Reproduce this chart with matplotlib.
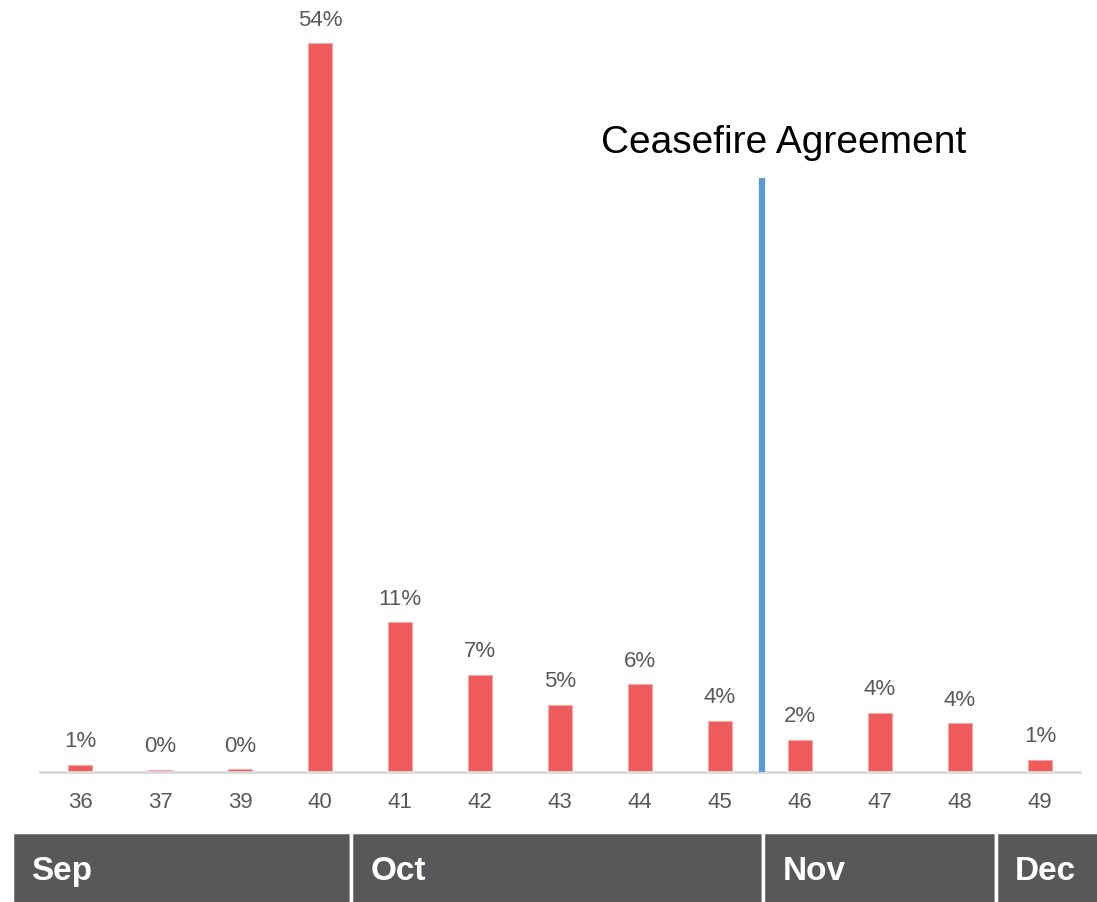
import matplotlib
matplotlib.use("Agg")
import matplotlib.pyplot as plt
from matplotlib.patches import Rectangle
from matplotlib import font_manager

weeks = ["36", "37", "39", "40", "41", "42", "43", "44", "45", "46", "47", "48", "49"]
values = [0.55, 0.15, 0.22, 54.0, 11.1, 7.2, 5.0, 6.5, 3.8, 2.4, 4.4, 3.6, 0.9]
labels = ["1%", "0%", "0%", "54%", "11%", "7%", "5%", "6%", "4%", "2%", "4%", "4%", "1%"]
event_label = "Ceasefire Agreement"
event_pos = 8.53
event_top = 44.0
months = ["Sep", "Oct", "Nov", "Dec"]
month_edges = [-0.85, 3.39, 8.54, 11.45, 12.9]

names = {f.name for f in font_manager.fontManager.ttflist}
fam = [f for f in ["Liberation Sans Narrow", "Arial Narrow", "Liberation Sans", "DejaVu Sans"] if f in names]
plt.rcParams['font.family'] = fam

fig = plt.figure(figsize=(10.97, 9.03), dpi=100)
W, H = 1097, 903
ax = fig.add_axes([40 / W, 1 - 773 / H, 1040 / W, 773 / H])
x = list(range(len(weeks)))
bar_color = "#EF5A5B"
ax.bar(x, values, width=0.31, color=bar_color, edgecolor="#F5A9A9", linewidth=0.8, zorder=2)
for xi, v, lab in zip(x, values, labels):
    ax.text(xi, v + 1.0, lab, ha="center", va="bottom", fontsize=16, color="#595959")
ax.set_xlim(-0.5, len(weeks) - 0.5)
ax.set_ylim(0, 54 * 773 / 729)
ax.set_xticks(x)
ax.set_xticklabels(weeks, fontsize=16, color="#595959")
ax.tick_params(axis="x", length=0, pad=14)
ax.set_yticks([])
for s in ["top", "right", "left"]:
    ax.spines[s].set_visible(False)
ax.spines["bottom"].set_color("#D9D9D9")
ax.spines["bottom"].set_linewidth(2)

ax.plot([event_pos, event_pos], [0, event_top], color="#5B9BD5", linewidth=4.5, zorder=3, solid_capstyle="butt")
ax.text(event_pos + 0.26, event_top + 1.3, event_label, ha="center", va="bottom", fontsize=28, color="black")

# month band
bax = fig.add_axes([40 / W, 0, 1040 / W, 70 / H])
bax.set_xlim(-0.5, len(weeks) - 0.5)
bax.set_ylim(0, 1)
bax.axis("off")
for i, m in enumerate(months):
    x0, x1 = month_edges[i], month_edges[i + 1]
    bax.add_patch(Rectangle((x0, -0.3), x1 - x0, 1.3, facecolor="#58585A", edgecolor="white",
                            linewidth=2.5, clip_on=False))
    bax.text(x0 + 0.24, 0.45, m, ha="left", va="center", fontsize=24, fontweight="bold",
             color="white", clip_on=False)

fig.savefig("out.png", dpi=100)
